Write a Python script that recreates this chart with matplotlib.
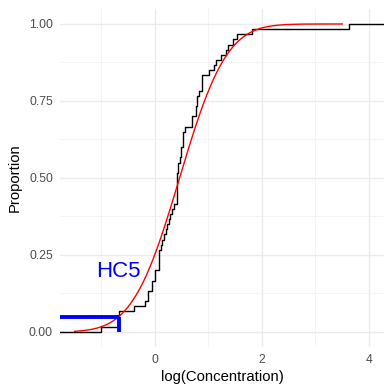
import math
import numpy as np
import matplotlib
matplotlib.use("Agg")
import matplotlib.pyplot as plt
from matplotlib.ticker import MultipleLocator

plt.rcParams['font.family'] = ['Liberation Sans', 'DejaVu Sans']

# log concentrations (sorted, repeats are tied values)
log_conc = [-1.01, -0.68, -0.68, -0.68, -0.40, -0.19, -0.125, -0.125,
            -0.06, -0.06, 0.00, 0.00, 0.08, 0.08, 0.08, 0.08,
            0.11, 0.14, 0.17, 0.20, 0.23, 0.26, 0.29, 0.32, 0.35,
            0.405, 0.405, 0.405, 0.405, 0.405, 0.405, 0.435, 0.435,
            0.47, 0.495, 0.495, 0.52, 0.52, 0.53, 0.57, 0.685, 0.685,
            0.77, 0.77, 0.79, 0.79, 0.83, 0.87, 0.87, 0.87,
            1.015, 1.11, 1.15, 1.23, 1.32, 1.37, 1.46, 1.54, 1.81, 3.63]

# fitted normal on log scale
fit_mean = 0.46
fit_sd = 0.69
fit_range = (-1.5, 3.5)
hc_p = 0.05

xlo, xhi = -1.776, 4.28

fig = plt.figure(figsize=(3.84, 3.85), dpi=100)
ax = fig.add_axes([0.156, 0.0977, 0.844, 0.88])

# empirical cdf as a step line, padded out to the panel edges
vals, counts = np.unique(log_conc, return_counts=True)
cum = np.cumsum(counts) / len(log_conc)
sx = np.concatenate([[xlo], vals, [xhi]])
sy = np.concatenate([[0.0], cum, [1.0]])
ax.plot(sx, sy, drawstyle='steps-post', color='black', lw=1.0, zorder=3)

xs = np.linspace(fit_range[0], fit_range[1], 200)
ys = [0.5 * (1 + math.erf((x - fit_mean) / (fit_sd * math.sqrt(2)))) for x in xs]
ax.plot(xs, ys, color='red', lw=1.0, zorder=4)

hc5 = fit_mean - 1.6449 * fit_sd
ax.plot([xlo, hc5], [hc_p, hc_p], color='blue', lw=2.8, solid_capstyle='butt', zorder=5)
ax.plot([hc5, hc5], [0, hc_p], color='blue', lw=2.8, solid_capstyle='butt', zorder=5)
ax.text(hc5, 0.196, 'HC5', color='blue', fontsize=16, ha='center', va='center')

ax.set_xlim(xlo, xhi)
ax.set_ylim(-0.05, 1.05)
ax.xaxis.set_major_locator(MultipleLocator(2))
ax.xaxis.set_minor_locator(MultipleLocator(1))
ax.yaxis.set_major_locator(MultipleLocator(0.25))
ax.yaxis.set_minor_locator(MultipleLocator(0.125))
ax.yaxis.set_major_formatter(matplotlib.ticker.FormatStrFormatter('%.2f'))

ax.grid(which='major', color='#EBEBEB', lw=1.0)
ax.grid(which='minor', color='#F2F2F2', lw=0.6)
ax.set_axisbelow(True)
for s in ax.spines.values():
    s.set_visible(False)
ax.tick_params(which='both', length=0, labelsize=8.8, labelcolor='#4D4D4D', pad=5)

ax.set_xlabel('log(Concentration)', fontsize=10.7, labelpad=3)
ax.set_ylabel('Proportion', fontsize=10.7, labelpad=5)

fig.savefig('out.png', dpi=100)
